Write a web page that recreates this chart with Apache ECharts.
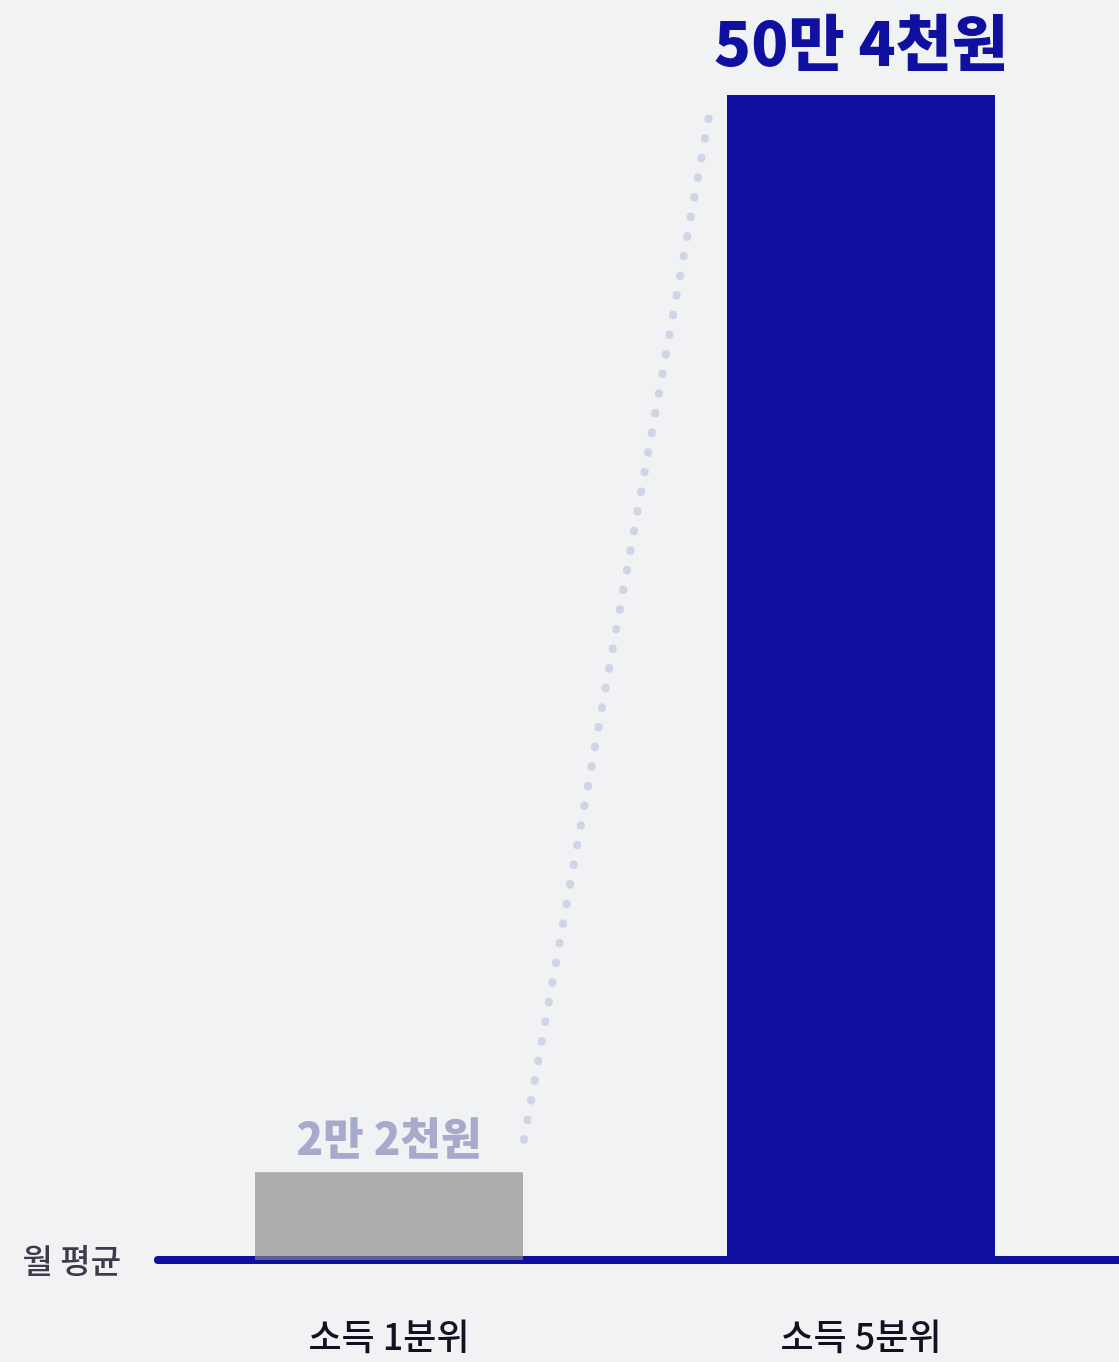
<!DOCTYPE html>
<html>
<head>
<meta charset="utf-8">
<script src="https://cdn.jsdelivr.net/npm/echarts@6/dist/echarts.min.js"></script>
<style>
html,body{margin:0;padding:0;background:#f1f2f4;}
#chart{width:1119px;height:1362px;}
</style>
</head>
<body>
<div id="chart"></div>
<script>
// ---- data ----
const categories = ['소득 1분위', '소득 5분위'];
const barValues = [3.8, 50.4];            // bar heights as drawn (만원 scale)
const valueLabels = ['2만 2천원', '50만 4천원'];
const connectorX = [0.286, 0.678];        // in category units (0 = first bar centre)
const connectorY = [5.2, 49.5];
const axisTitle = '월 평균';

const chart = echarts.init(document.getElementById('chart'));
const KR = '"Noto Sans CJK KR", "Noto Sans", sans-serif';

const barData = barValues.map((v, i) => ({
  value: v,
  itemStyle: i === 0 ? { color: 'rgba(136,137,136,0.66)' } : { color: '#1010a0' },
  label: i === 0
    ? { color: '#a7aacb', fontSize: 44, distance: 12 }
    : { color: '#1010a0', fontSize: 61, distance: 22 }
}));

chart.setOption({
  backgroundColor: '#f1f2f4',
  animation: false,
  grid: [
    { left: 153, right: 22, top: 95, bottom: 102 },
    { left: 158, right: 0, top: 95, bottom: 102 }
  ],
  xAxis: [
    {
      type: 'category', gridIndex: 0, data: categories,
      axisLine: { show: false }, axisTick: { show: false },
      axisLabel: { color: '#111122', fontSize: 36, fontFamily: KR, fontWeight: 500, margin: 58 }
    },
    {
      type: 'value', gridIndex: 0, min: -0.5, max: 1.5, show: false
    },
    {
      type: 'value', gridIndex: 1, min: 0, max: 1, position: 'bottom',
      axisLine: { show: true, onZero: false, lineStyle: { color: '#1010a0', width: 8, cap: 'round' } },
      axisTick: { show: false }, axisLabel: { show: false }, splitLine: { show: false }
    }
  ],
  yAxis: [
    {
      type: 'value', gridIndex: 0, min: 0, max: 50.4, interval: 50.4,
      axisLine: { show: false }, axisTick: { show: false }, splitLine: { show: false },
      axisLabel: {
        color: '#3b3b4b', fontSize: 33, fontFamily: KR, fontWeight: 500, margin: 32,
        formatter: v => (v === 0 ? axisTitle : '')
      }
    },
    {
      type: 'value', gridIndex: 1, min: 0, max: 1, show: false
    }
  ],
  series: [
    {
      type: 'line', xAxisIndex: 1, yAxisIndex: 0,
      data: connectorX.map((x, i) => [x, connectorY[i]]),
      symbol: 'none', silent: true, z: 1,
      lineStyle: { color: '#d3d3e8', width: 8, cap: 'round', type: [0.5, 19.45] }
    },
    {
      type: 'bar', xAxisIndex: 0, yAxisIndex: 0,
      barWidth: 268, z: 3,
      data: barData,
      label: {
        show: true, position: 'top', fontFamily: KR, fontWeight: 900,
        formatter: p => valueLabels[p.dataIndex]
      }
    }
  ]
});
</script>
</body>
</html>
